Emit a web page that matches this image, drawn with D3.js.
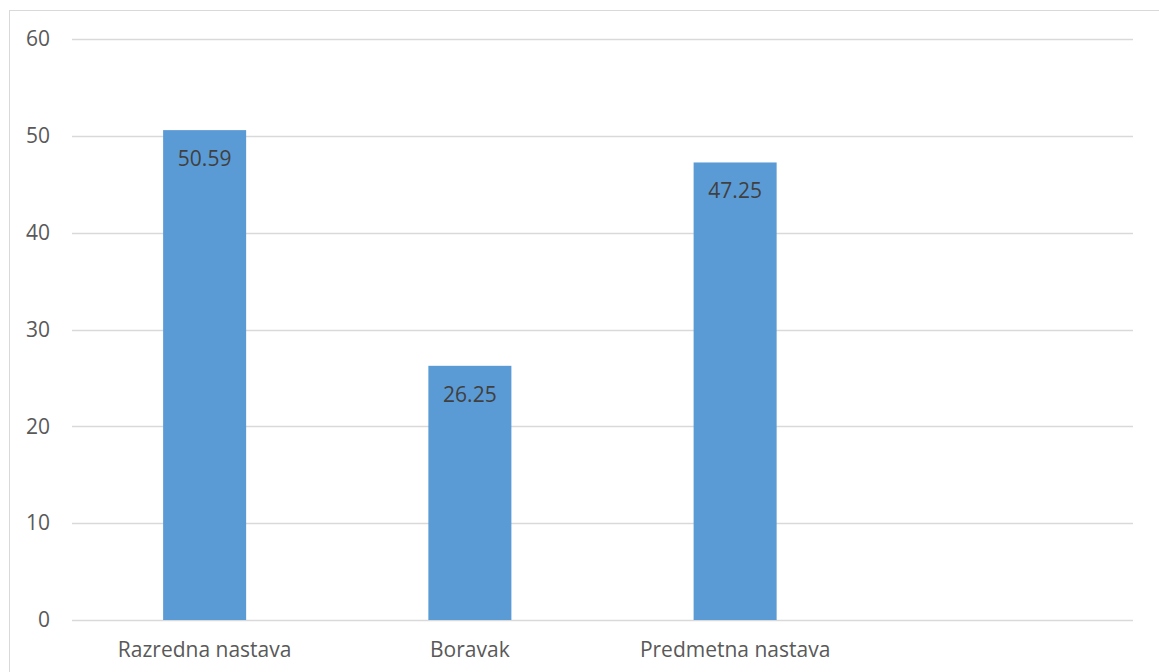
<!DOCTYPE html>
<html>
<head>
<meta charset="utf-8">
<script src="https://cdn.jsdelivr.net/npm/d3@7"></script>
<style>
  html, body { margin: 0; padding: 0; background: #fff; }
  svg { display: block; font-family: "Open Sans", sans-serif; }
</style>
</head>
<body>
<svg id="chart" width="1159" height="672"></svg>
<script>
const categories = ["Razredna nastava", "Boravak", "Predmetna nastava", ""];
const values = [50.59, 26.25, 47.25, null];
const yTicks = [0, 10, 20, 30, 40, 50, 60];

const width = 1159, height = 672;
const margin = { top: 39, right: 26, bottom: 52, left: 72 };
const fontSize = 21;

const svg = d3.select("#chart");

// chart frame (runs off the right/bottom edge like the original)
svg.append("rect")
  .attr("x", 9.5).attr("y", 10.5)
  .attr("width", width + 10).attr("height", height + 10)
  .attr("fill", "none").attr("stroke", "#d9d9d9");

const x = d3.scaleBand()
  .domain(categories.map((d, i) => i))
  .range([margin.left, width - margin.right])
  .paddingInner(0.687)
  .paddingOuter(0.687 / 2);

const y = d3.scaleLinear()
  .domain([0, 60])
  .range([height - margin.bottom, margin.top]);

// gridlines
svg.append("g").attr("class", "grid")
  .selectAll("line").data(yTicks).join("line")
  .attr("x1", margin.left).attr("x2", width - margin.right)
  .attr("y1", (d) => Math.round(y(d)) + 0.5).attr("y2", (d) => Math.round(y(d)) + 0.5)
  .attr("stroke", "#d9d9d9").attr("stroke-width", 1.3);

// y axis labels
const yAxis = d3.axisLeft(y).tickValues(yTicks).tickSize(0).tickPadding(0);
svg.append("g")
  .attr("transform", `translate(${50},0)`)
  .call(yAxis)
  .call((g) => g.select(".domain").remove())
  .call((g) => g.selectAll("text")
    .attr("fill", "#595959").attr("font-size", fontSize).attr("font-family", "Open Sans, sans-serif"));

// bars
const data = categories.map((c, i) => ({ i, c, v: values[i] })).filter((d) => d.v != null);

svg.append("g").selectAll("rect").data(data).join("rect")
  .attr("x", (d) => x(d.i)).attr("width", x.bandwidth())
  .attr("y", (d) => y(d.v)).attr("height", (d) => y(0) - y(d.v))
  .attr("fill", "#5b9bd5");

// value labels
svg.append("g").selectAll("text").data(data).join("text")
  .attr("x", (d) => x(d.i) + x.bandwidth() / 2)
  .attr("y", (d) => y(d.v) + 36)
  .attr("text-anchor", "middle")
  .attr("fill", "#404040").attr("font-size", fontSize)
  .text((d) => d.v.toFixed(2));

// x axis labels
const xAxis = d3.axisBottom(x).tickSize(0).tickPadding(0).tickFormat((i) => categories[i]);
svg.append("g")
  .attr("transform", `translate(0,${y(0)})`)
  .call(xAxis)
  .call((g) => g.select(".domain").remove())
  .call((g) => g.selectAll("text")
    .attr("y", 37).attr("dy", 0)
    .attr("fill", "#595959").attr("font-size", fontSize).attr("font-family", "Open Sans, sans-serif"));
</script>
</body>
</html>
